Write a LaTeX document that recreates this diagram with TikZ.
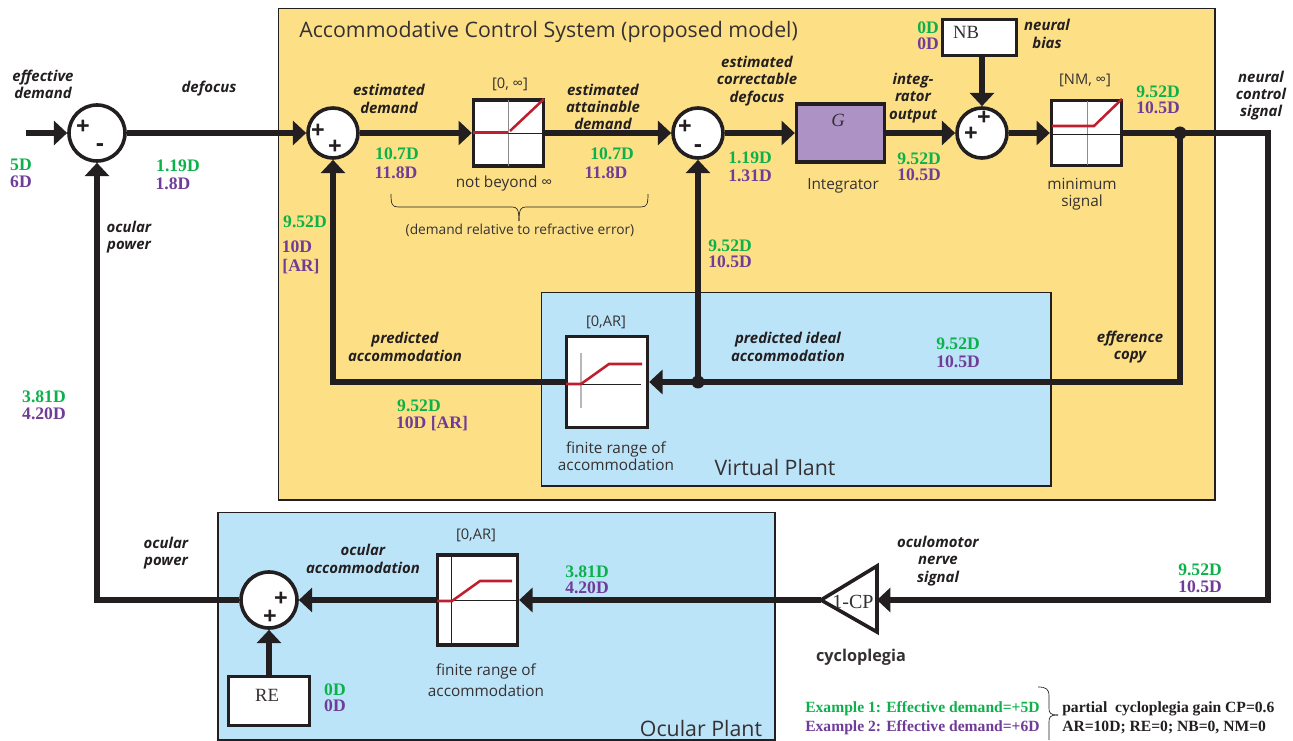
\documentclass[tikz,border=0pt]{standalone}
\usepackage{fontspec}
\usetikzlibrary{arrows.meta,calc}
\setmainfont{Open Sans}
\newfontfamily\numf{Liberation Serif}
\definecolor{dk}{HTML}{231F20}
\definecolor{yel}{HTML}{FDE086}
\definecolor{blu}{HTML}{BCE4F9}
\definecolor{grn}{HTML}{0DB14B}
\definecolor{pur}{HTML}{6F3C97}
\definecolor{rd}{HTML}{BE1E2D}
\definecolor{viol}{HTML}{AD92C5}
\tikzset{
  panel/.style={draw=dk,line width=0.8pt},
  sumnode/.style={circle,draw=dk,fill=white,line width=2.7pt,inner sep=0pt,minimum size=#1*0.75pt},
  blk/.style n args={2}{rectangle,draw=dk,fill=white,line width=2.5pt,inner sep=0pt,minimum width=#1*0.75pt,minimum height=#2*0.75pt},
  conn/.style={draw=dk,line width=3.8pt},
  tip/.style={conn,-{Triangle[length=10pt,width=18pt]}},
  lab/.style={font=\fontsize{11.2}{12.9}\selectfont\bfseries\itshape,text=dk,align=center,inner sep=0pt},
  sansl/.style={font=\fontsize{11.5}{13}\selectfont,text=dk!92,align=center,inner sep=0pt},
  rng/.style={font=\fontsize{11}{12}\selectfont,text=dk!92,inner sep=0pt},
  gv/.style={font=\fontsize{13.2}{14}\numf\bfseries\selectfont,text=grn,inner sep=0pt,yshift=-0.7pt},
  pv/.style={font=\fontsize{13.2}{14}\numf\bfseries\selectfont,text=pur,inner sep=0pt,yshift=-0.7pt},
  sg/.style={font=\fontsize{18}{18}\selectfont\bfseries,text=dk,inner sep=0pt},
  ser/.style={font=\fontsize{14}{16}\numf\selectfont,text=dk!92,inner sep=0pt},
  exg/.style={font=\fontsize{11.7}{13}\numf\bfseries\selectfont,inner sep=0pt,anchor=west},
  ttl/.style={font=\fontsize{16}{18}\selectfont,text=dk!92,inner sep=0pt},
  redl/.style={draw=rd,line width=1.9pt},
  axb/.style={draw=dk,line width=0.6pt},
  axg/.style={draw=black!45,line width=0.7pt},
  axl/.style={draw=black!28,line width=1pt},
  thin/.style={draw=dk,line width=0.5pt}
}
\begin{document}
\begin{tikzpicture}[x=0.75pt,y=-0.75pt]
\useasboundingbox (0,0) rectangle (1293,741);
\fill[white] (0,0) rectangle (1293,741);
% panels
\draw[panel,fill=yel] (278.5,8.5) rectangle (1215,500);
\draw[panel,fill=blu] (541.5,292.5) rectangle (1051,486);
\draw[panel,fill=blu] (218,512.5) rectangle (775,740);
% free ends
\coordinate (inp) at (26,133);
\coordinate (triL) at (821,600);
\coordinate (triR) at (877,600);
\coordinate (cR1) at (1268,133);
\coordinate (cR2) at (1268,600);
% blocks
\node[sumnode=56] (s1) at (97,133) {};
\node[sumnode=50] (s2) at (333,133) {};
\node[sumnode=50] (s3) at (698,133) {};
\node[sumnode=50] (s4) at (982,133) {};
\node[sumnode=56] (s5) at (269,600) {};
\node[blk={70}{66}] (lim1) at (508.5,133) {};
\node[blk={70}{65}] (lim2) at (1086.5,133) {};
\node[blk={88}{58},fill=viol] (gain) at (840.5,133) {};
\node[blk={74}{36}] (nb) at (979.5,37.5) {};
\node[blk={81}{91}] (lim3) at (607,382) {};
\node[blk={80}{90}] (lim4) at (477.5,600) {};
\node[blk={81}{49}] (re) at (269,701) {};
\draw[draw=dk,line width=2.7pt,line join=miter,fill=none] (triL) -- (877,566) -- (877,632) -- cycle;
\node[circle,fill=dk,inner sep=0pt,minimum size=13*0.75pt] (j1) at (1180,133) {};
\node[circle,fill=dk,inner sep=0pt,minimum size=13*0.75pt] (j2) at (698,382) {};
% connectors
\draw[tip] (inp) -- (s1.west);
\draw[tip] (s1.east) -- (s2.west);
\draw[tip] (s2.east) -- (lim1.west);
\draw[tip] (lim1.east) -- (s3.west);
\draw[tip] (s3.east) -- (gain.west);
\draw[tip] (gain.east) -- (s4.west);
\draw[tip] (s4.east) -- (lim2.west);
\draw[tip] (s4.north |- nb.south) -- (s4.north);
\draw[conn] (lim2.east) -- (j1.center);
\draw[tip,line join=miter] (j1.center) -- (cR1) -- (cR2) -- (triR);
\draw[conn,line join=miter] (j1.center) |- (j2.center);
\draw[tip] (j2.center) -- (lim3.east);
\draw[tip] (j2.center) -- (s3.south);
\draw[tip,line join=miter] (lim3.west) -| (s2.south);
\draw[tip] (triL) -- (lim4.east);
\draw[tip] (lim4.west) -- (s5.east);
\draw[tip] (re.north) -- (s5.south);
\draw[tip,line join=miter] (s5.west) -| (s1.south);
% limiter graphs
\draw[axg] (508,100) -- (508,166);
\draw[axb] (508,133) -- (544,133);
\draw[redl] (473,132.5) -- (508,132.5);
\draw[redl] (510,131) -- (544,99);
\draw[axg] (1087,101) -- (1087,165);
\draw[axb] (1051,134) -- (1122,134);
\draw[redl] (1052,126) -- (1094,126) -- (1122,99);
\draw[axl] (581,353) -- (581,408);
\draw[axb] (581,384) -- (641,384);
\draw[redl] (566,384) -- (581,384) -- (609,364) -- (642,364);
\draw[axb] (451,554) -- (451,645);
\draw[axb] (451,600) -- (518,600);
\draw[redl] (437,601) -- (452,601) -- (480,581) -- (512,581);
% signs
\node[sg] (p1) at (83,127) {+};
\node[sg] (m1) at (100,148) {-};
\node[sg] (p2) at (318,131) {+};
\node[sg] (p3) at (335,147) {+};
\node[sg] (p4) at (685,127) {+};
\node[sg] (m2) at (698,149) {-};
\node[sg] (p5) at (971,134) {+};
\node[sg] (p6) at (984,118) {+};
\node[sg] (p7) at (281,599) {+};
\node[sg] (p8) at (270,617) {+};
% block text
\node[ser,font=\fontsize{14}{16}\numf\itshape\selectfont] (tg) at (838,120) {G};
\node[ser] (tnb) at (966,32) {NB};
\node[ser] (tre) at (267,695) {RE};
\node[ser,font=\fontsize{15}{16}\numf\selectfont] (tcp) at (853,602) {1-CP};
% titles
\node[ttl,anchor=west] (title) at (299,32) {Accommodative Control System (proposed model)};
\node[ttl] (tvp) at (775,468) {Virtual Plant};
\node[ttl] (top) at (701,728) {Ocular Plant};
% italic labels
\node[lab] (a1) at (43,84) {effective\\demand};
\node[lab] (a2) at (209,89) {defocus};
\node[lab] (a3) at (389,99) {estimated\\demand};
\node[lab] (a4) at (603,107) {estimated\\attainable\\demand};
\node[lab] (a5) at (757,81) {estimated\\correctable\\defocus};
\node[lab] (a6) at (913,98) {integ-\\rator\\output};
\node[lab] (a7) at (1047,34) {neural\\bias};
\node[lab] (a8) at (1261,95.5) {neural\\control\\signal};
\node[lab] (a9) at (129,237) {ocular\\power};
\node[lab] (a10) at (405,347) {predicted\\accommodation};
\node[lab] (a11) at (788,347) {predicted ideal\\accommodation};
\node[lab] (a12) at (1130,347) {efference\\copy};
\node[lab] (a13) at (166,553) {ocular\\power};
\node[lab] (a14) at (363,559) {ocular\\accommodation};
\node[lab] (a15) at (938,561) {oculomotor\\nerve\\signal};
% range and plain labels
\node[rng] (r1) at (510,84) {[0, ∞]};
\node[rng] (r2) at (1085,80) {[NM, ∞]};
\node[rng] (r3) at (606,322) {[0,AR]};
\node[rng] (r4) at (476,535) {[0,AR]};
\node[sansl] (t1) at (504,184) {not beyond ∞};
\node[sansl] (t2) at (843,186) {Integrator};
\node[sansl] (t3) at (1082,194) {minimum\\signal};
\node[sansl] (t4) at (616,456) {finite range of\\accommodation};
\node[sansl,font=\fontsize{11.5}{16}\selectfont] (t5) at (486,680) {finite range of\\accommodation};
\node[sansl,font=\fontsize{10.3}{12}\selectfont] (t6) at (520,230) {(demand relative to refractive error)};
\node[sansl,font=\fontsize{12.2}{14}\selectfont\bfseries] (t7) at (861,657) {cycloplegia};
% values
\node[gv] (v1) at (21,164) {5D}; \node[pv] (w1) at (21,181) {6D};
\node[gv] (v2) at (178,165) {1.19D}; \node[pv] (w2) at (173,183) {1.8D};
\node[gv] (v3) at (397,153) {10.7D}; \node[pv] (w3) at (396,172) {11.8D};
\node[gv] (v4) at (612,153) {10.7D}; \node[pv] (w4) at (606,172) {11.8D};
\node[gv] (v5) at (750,157) {1.19D}; \node[pv] (w5) at (750,175) {1.31D};
\node[gv] (v6) at (919,157.5) {9.52D}; \node[pv] (w6) at (919,174) {10.5D};
\node[gv] (v7) at (928,27) {0D}; \node[pv] (w7) at (928,43) {0D};
\node[gv] (v8) at (1158,91) {9.52D}; \node[pv] (w8) at (1158,107) {10.5D};
\node[gv] (v9) at (305,221) {9.52D}; \node[pv] (w9) at (297,246) {10D};
\node[pv] (w9b) at (301,266) {[AR]};
\node[gv] (v10) at (730,245) {9.52D}; \node[pv] (w10) at (730,261) {10.5D};
\node[gv] (v11) at (958,343) {9.52D}; \node[pv] (w11) at (958,361) {10.5D};
\node[gv] (v12) at (419,405) {9.52D}; \node[pv] (w12) at (432,423) {10D [AR]};
\node[gv] (v13) at (44,396) {3.81D}; \node[pv] (w13) at (44,413) {4.20D};
\node[gv] (v14) at (587,571) {3.81D}; \node[pv] (w14) at (587,587) {4.20D};
\node[gv] (v15) at (1200,569) {9.52D}; \node[pv] (w15) at (1200,586) {10.5D};
\node[gv] (v16) at (335,689) {0D}; \node[pv] (w16) at (335,705) {0D};
% brace
\draw[thin] (391,194) .. controls (391,204) and (392,207) .. (398,207) -- (512,207) .. controls (517,207) and (519,209) .. (519,221);
\draw[thin] (648,194) .. controls (648,204) and (647,207) .. (641,207) -- (526,207) .. controls (521,207) and (519,209) .. (519,221);
% legend
\node[exg,text=grn] (e1) at (805,709) {Example 1: Effective demand=+5D};
\node[exg,text=pur] (e2) at (805,728) {Example 2: Effective demand=+6D};
\node[exg,text=dk] (e3) at (1062,709) {partial\ \ cycloplegia gain CP=0.6};
\node[exg,text=dk] (e4) at (1062,728) {AR=10D; RE=0; NB=0, NM=0};
\draw[thin] (1038,687) .. controls (1046,687) and (1049,689) .. (1049,696) -- (1049,708) .. controls (1049,713) and (1050,715) .. (1058,715);
\draw[thin] (1058,715) .. controls (1050,715) and (1049,717) .. (1049,722) -- (1049,740);
\end{tikzpicture}
\end{document}
